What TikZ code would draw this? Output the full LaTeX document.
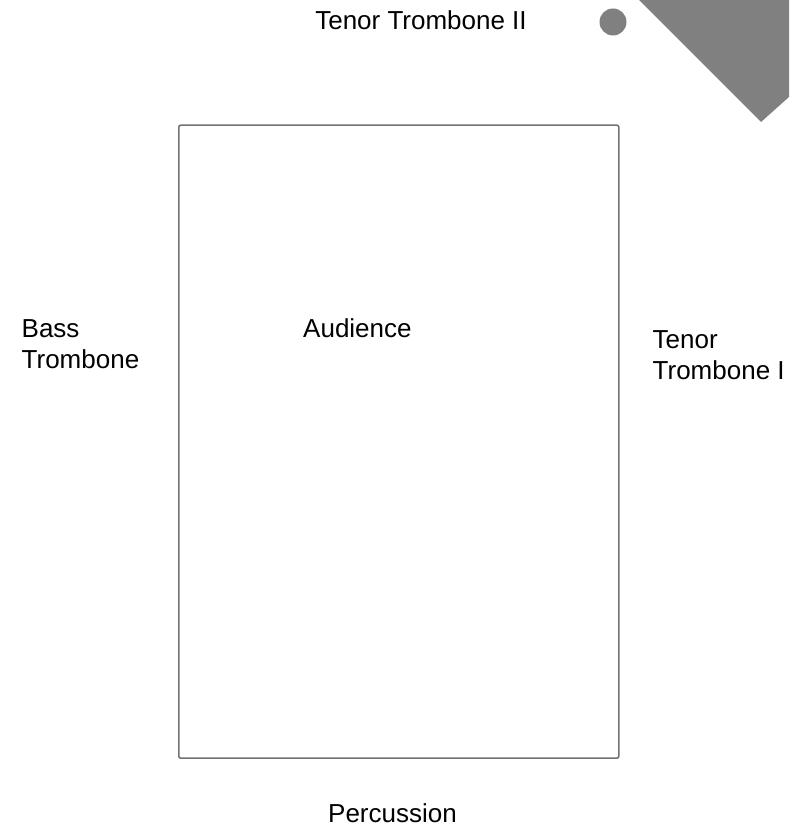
\documentclass[tikz,border=0pt]{standalone}
\usepackage{fontspec,xcolor,tikz}
\setmainfont{Liberation Sans}
\definecolor{ink}{HTML}{000000}
\definecolor{frame}{HTML}{727272}
\definecolor{greyb}{HTML}{808080}
\newcommand{\lbl}{\fontsize{26}{31}\selectfont}

\begin{document}
\begin{tikzpicture}[x=1pt,y=1pt,
  part/.style={inner sep=0,text=ink,font=\lbl,align=left}]
\useasboundingbox (0,0) rectangle (789,826);
% stage area
\node[draw=frame,line width=1.6pt,rounded corners=2pt,inner sep=0,
  minimum width=440,minimum height=633,anchor=south west] (room) at (178,67) {};
\fill[greyb] (639,826) -- (789,826) -- (789,729) -- (761,704) -- cycle;
\fill[greyb] (613,804) circle (13.5);
% players
\node[part,anchor=base] (tb2) at (421,796) {Tenor Trombone II};
\node[part,anchor=base west] (bass) at (21.5,457) {Bass\\Trombone};
\node[part,anchor=base west] (aud) at (303,488) {Audience};
\node[part,anchor=base west] (tb1) at (652.5,446) {Tenor\\Trombone I};
\node[part,anchor=base] (perc) at (392.5,4) {Percussion};
\end{tikzpicture}
\end{document}
